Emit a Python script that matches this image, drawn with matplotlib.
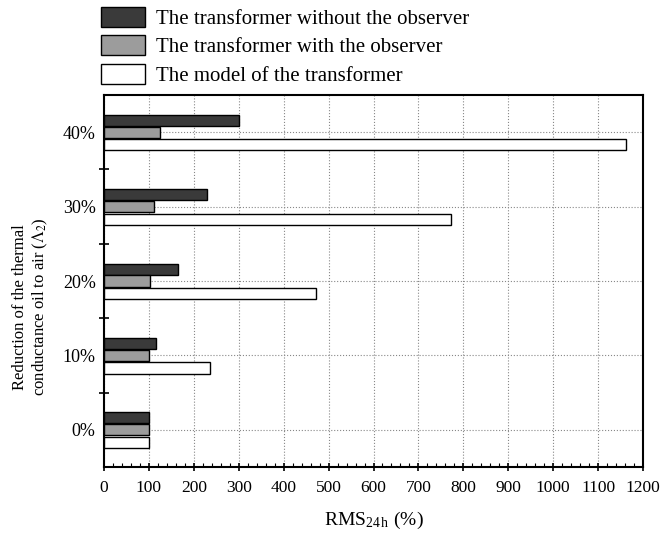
import matplotlib
matplotlib.use("Agg")
import matplotlib.pyplot as plt
import numpy as np
from matplotlib.ticker import MultipleLocator, FixedLocator

plt.rcParams['font.family'] = ['Liberation Serif', 'DejaVu Serif']
plt.rcParams['mathtext.fontset'] = 'stix'

categories = ['0%', '10%', '20%', '30%', '40%']
without_observer = [100, 115, 165, 230, 300]
with_observer = [100, 100, 103, 112, 124]
model = [100, 235, 471, 772, 1162]
series_labels = ['The transformer without the observer',
                 'The transformer with the observer',
                 'The model of the transformer']
xticks = list(range(0, 1201, 100))

fig = plt.figure(figsize=(6.6, 5.37), dpi=100)
ax = fig.add_axes([104/660, 1 - 467/537, (643-104)/660, (467-95)/537])

y = np.arange(len(categories))
h = 0.15
b1 = ax.barh(y + 0.16, without_observer, height=h, color='#3a3a3a', edgecolor='black', linewidth=1.0, label=series_labels[0], zorder=3)
b2 = ax.barh(y, with_observer, height=h, color='#9c9c9c', edgecolor='black', linewidth=1.0, label=series_labels[1], zorder=3)
b3 = ax.barh(y - 0.17, model, height=h, color='white', edgecolor='black', linewidth=1.0, label=series_labels[2], zorder=3)

ax.set_xlim(0, 1200)
ax.set_ylim(-0.5, 4.5)
ax.set_xticks(xticks)
ax.set_xticklabels([str(t) for t in xticks])
ax.xaxis.set_minor_locator(MultipleLocator(20))
ax.set_yticks(y)
ax.set_yticklabels(categories)
ax.yaxis.set_minor_locator(FixedLocator([0.5, 1.5, 2.5, 3.5]))
ax.tick_params(axis='y', which='major', length=0, labelsize=13, pad=6)
ax.tick_params(axis='y', which='minor', length=7, width=1.2, direction='inout')
ax.tick_params(axis='x', which='major', length=6, width=1.2, direction='inout', labelsize=12.5, pad=6)
ax.tick_params(axis='x', which='minor', length=3, width=0.8, direction='in')

ax.grid(True, which='major', linestyle=':', color='#888888', linewidth=0.8, zorder=0)
ax.set_axisbelow(True)
for s in ax.spines.values():
    s.set_linewidth(1.5)

ax.set_xlabel(r'RMS$_{\mathregular{24\,h}}$ (%)', fontsize=14, labelpad=10)
ax.set_ylabel('Reduction of the thermal\nconductance oil to air ($\\mathit{\\Lambda}_2$)', fontsize=12)
ax.yaxis.set_label_coords(-0.1, 0.43)

fig.legend(handles=[b1, b2, b3], labels=series_labels, loc='upper left',
           bbox_to_anchor=(101/660, 1 - 7/537), frameon=False, fontsize=15,
           handlelength=2.1, handleheight=1.1, labelspacing=0.3, handletextpad=0.55,
           borderaxespad=0, borderpad=0)

fig.savefig('out.png', dpi=100)
